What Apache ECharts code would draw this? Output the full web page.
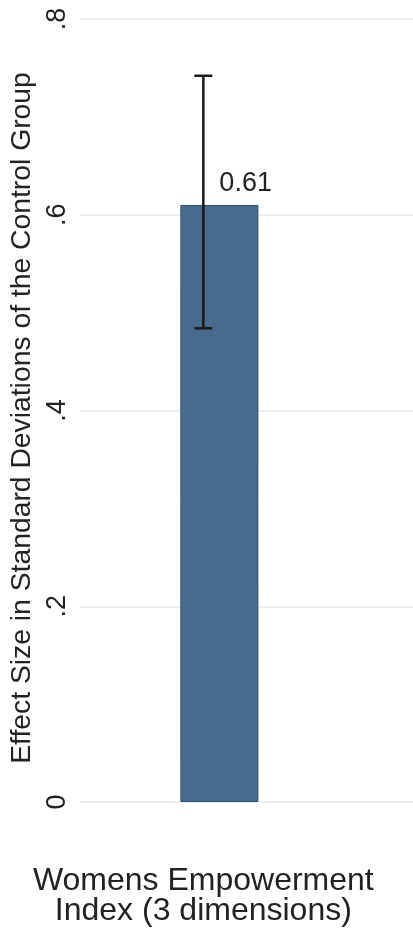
<!DOCTYPE html>
<html>
<head>
<meta charset="utf-8">
<script src="https://cdn.jsdelivr.net/npm/echarts@6/dist/echarts.min.js"></script>
<style>
  html, body { margin: 0; padding: 0; background: #ffffff; }
  #chart { width: 413px; height: 932px; }
</style>
</head>
<body>
<div id="chart"></div>
<script>
// Outcome shown on the x axis and its position
const categories = ['Womens Empowerment\nIndex (3 dimensions)'];
const categoryPos = [1];
// Point estimate and 95% confidence interval (in SD of the control group)
const effectValues = [0.61];
const ciLow = [0.484];
const ciHigh = [0.742];
// Y axis ticks
const yTicks = [0, 0.2, 0.4, 0.6, 0.8];
const yTickLabels = ['0', '.2', '.4', '.6', '.8'];

// the bar sits slightly to the right of the interval marker
const barShift = 0.13;

const FONT = "'Liberation Sans', Arial, sans-serif";
const TEXT = '#222222';

const barData = effectValues.map((v, i) => [categoryPos[i] + barShift, v]);
const ciData = ciLow.map((lo, i) => [categoryPos[i], lo, ciHigh[i]]);

const chart = echarts.init(document.getElementById('chart'));
chart.setOption({
  animation: false,
  backgroundColor: '#ffffff',
  grid: { left: 80, right: 0, top: 19, bottom: 130 },
  xAxis: {
    type: 'value',
    min: 0,
    max: 2.7,
    splitLine: { show: false },
    axisLine: { show: false },
    axisTick: { show: false },
    axisLabel: {
      customValues: categoryPos,
      formatter: (v) => {
        const i = categoryPos.indexOf(v);
        return i >= 0 ? categories[i] : '';
      },
      margin: 64,
      fontFamily: FONT,
      fontSize: 32,
      lineHeight: 30,
      color: TEXT,
      align: 'center'
    }
  },
  yAxis: {
    type: 'value',
    min: yTicks[0],
    max: yTicks[yTicks.length - 1],
    interval: 0.2,
    name: 'Effect Size in Standard Deviations of the Control Group',
    nameLocation: 'middle',
    nameRotate: 90,
    nameGap: 39,
    nameTextStyle: { fontFamily: FONT, fontSize: 28.3, color: TEXT, padding: [0, 15, 0, 0] },
    axisLine: { show: false },
    axisTick: { show: false },
    axisLabel: {
      rotate: 90,
      margin: 9,
      fontFamily: FONT,
      fontSize: 27,
      color: TEXT,
      formatter: (v) => {
        const i = yTicks.findIndex(t => Math.abs(t - v) < 1e-9);
        return i >= 0 ? yTickLabels[i] : '';
      }
    },
    splitLine: { show: true, lineStyle: { color: '#e8eff4', width: 2 } }
  },
  series: [
    {
      type: 'bar',
      data: barData,
      barWidth: 78,
      itemStyle: { color: '#486a8c', borderColor: '#2f4c69', borderWidth: 1 },
      label: {
        show: true,
        position: 'top',
        align: 'left',
        distance: 8,
        fontFamily: FONT,
        fontSize: 27,
        color: TEXT,
        formatter: (p) => p.value[1].toFixed(2)
      },
      z: 2
    },
    {
      type: 'custom',
      data: ciData,
      z: 5,
      renderItem: (params, api) => {
        const top = api.coord([api.value(0), api.value(2)]);
        const bot = api.coord([api.value(0), api.value(1)]);
        const half = 9;
        const style = { stroke: '#1a1a1a', lineWidth: 2.5 };
        return {
          type: 'group',
          children: [
            { type: 'line', shape: { x1: top[0], y1: top[1], x2: bot[0], y2: bot[1] }, style },
            { type: 'line', shape: { x1: top[0] - half, y1: top[1], x2: top[0] + half, y2: top[1] }, style },
            { type: 'line', shape: { x1: bot[0] - half, y1: bot[1], x2: bot[0] + half, y2: bot[1] }, style }
          ]
        };
      }
    }
  ]
});
</script>
</body>
</html>
